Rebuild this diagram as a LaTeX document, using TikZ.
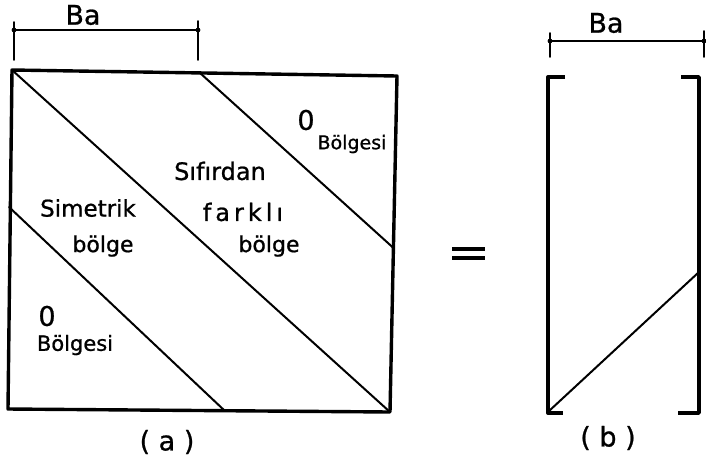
\documentclass[tikz,border=0pt]{standalone}
\usepackage{fontspec}
\setmainfont{DejaVu Sans}[FakeBold=0.9]
\begin{document}
\begin{tikzpicture}[x=1pt,y=-1pt,
  edge/.style={line width=3.4pt,line join=round,line cap=round},
  diag/.style={line width=2pt,line cap=round},
  dimline/.style={line width=1.8pt,line cap=round},
  lbl/.style={inner sep=0pt,font=\fontsize{22}{24}\selectfont},
  big/.style={inner sep=0pt,font=\fontsize{27}{29}\selectfont}]
\useasboundingbox (0,0) rectangle (706,464);
% square (a)
\coordinate (TL) at (12,70);
\coordinate (TR) at (397,76);
\coordinate (BR) at (390,412);
\coordinate (BL) at (8,409);
\draw[edge] (TL) -- (TR) -- (BR) -- (BL) -- cycle;
\coordinate (d1a) at (200,73);
\coordinate (d1b) at (393.5,248);
\coordinate (d3a) at (9,207);
\coordinate (d3b) at (225,411);
\draw[diag] (d1a) -- (d1b);
\draw[diag] (TL) -- (BR);
\draw[diag] (d3a) -- (d3b);
% dimension (a)
\coordinate (da1) at (14,30);
\coordinate (da2) at (198,30);
\draw[dimline] (da1) -- (da2);
\draw[dimline] (14,22) -- (14,60);
\draw[dimline] (198,21) -- (198,60);
\fill (da1) circle (2.4pt);
\fill (da2) circle (2.4pt);
\node[big] (ba1) at (83,15) {Ba};
% labels (a)
\node[big] (z1) at (306,120) {0};
\node[lbl,font=\fontsize{19}{21}\selectfont] (bg1) at (352,144) {Bölgesi};
\node[lbl,font=\fontsize{24}{26}\selectfont] (sf) at (220,171) {Sıfırdan};
\node[lbl,font=\fontsize{24}{26}\selectfont] (fk) at (243,212) {f\,a\,r\,k\,l\,ı};
\node[lbl] (bl1) at (269,246) {bölge};
\node[lbl,font=\fontsize{23}{25}\selectfont] (sm) at (88,208) {Simetrik};
\node[lbl] (bl2) at (103,246) {bölge};
\node[big] (z2) at (47,316) {0};
\node[lbl,font=\fontsize{21}{23}\selectfont] (bg2) at (75,345) {Bölgesi};
\node[big] (la) at (167,442) {( a )};
% equals
\draw[line width=3.4pt] (452,249) -- (485,249);
\draw[line width=3.4pt] (452,258) -- (485,258);
% (b)
\coordinate (bl) at (548,77);
\coordinate (blb) at (548,413);
\coordinate (br) at (699,77);
\coordinate (brb) at (699,413);
\draw[edge,line cap=butt] (565,77) -- (bl) -- (blb) -- (563,413);
\draw[edge,line cap=butt] (681,77) -- (br) -- (brb) -- (678,413);
\coordinate (q1) at (549,411);
\coordinate (q2) at (699,272);
\draw[diag] (q1) -- (q2);
% dimension (b)
\coordinate (db1) at (550,41);
\coordinate (db2) at (704,41);
\draw[dimline] (db1) -- (db2);
\draw[dimline] (550,33) -- (550,57);
\draw[dimline] (704,31) -- (704,57);
\fill (db1) circle (2.4pt);
\fill (db2) circle (2.4pt);
\node[big] (ba2) at (606,23) {Ba};
\node[big] (lb) at (608,438) {( b )};
\end{tikzpicture}
\end{document}
